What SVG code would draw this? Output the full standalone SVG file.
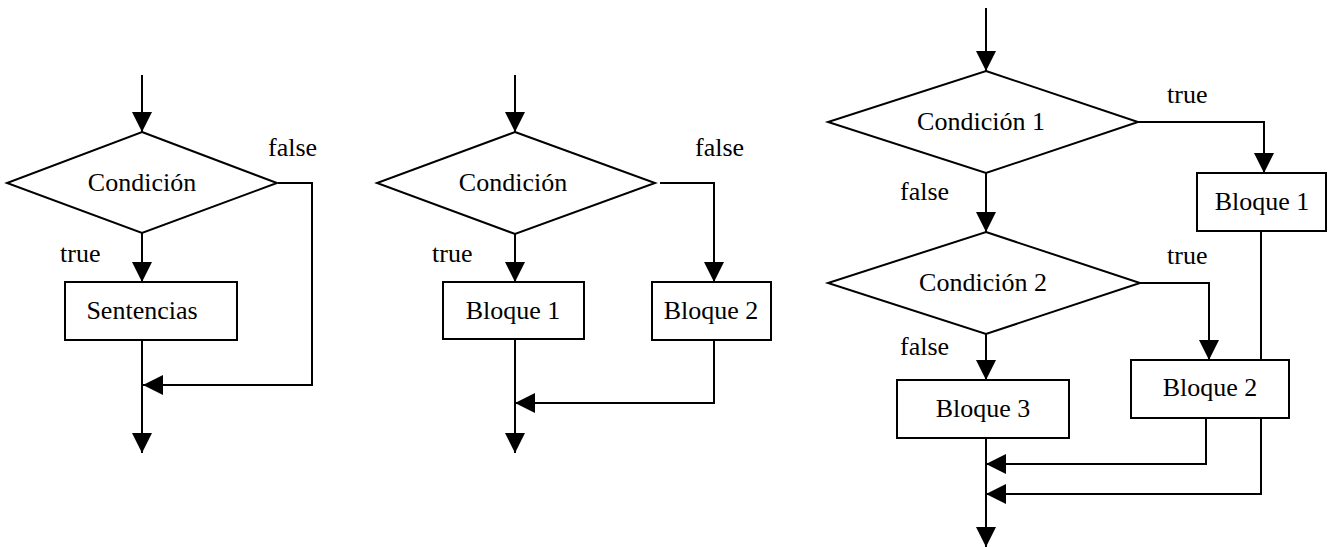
<svg xmlns="http://www.w3.org/2000/svg" width="1329" height="547" viewBox="0 0 1329 547">
<style>
.shape{fill:#fff;stroke:#000;stroke-width:2}
.conn{fill:none;stroke:#000;stroke-width:2}
.arr{marker-end:url(#ah)}
text{font-family:"Liberation Serif","Times New Roman",serif;font-size:26px;fill:#000}
.c{text-anchor:middle}
</style>
<defs>
<marker id="ah" markerUnits="userSpaceOnUse" markerWidth="20" markerHeight="20" refX="20" refY="10" orient="auto">
<path d="M0,0 L20,10 L0,20 z" fill="#000"/>
</marker>
</defs>
<g id="connectors">
<!-- diagram 1 -->
<path class="conn arr" d="M142,75 V132"/>
<path class="conn arr" d="M142,233 V282"/>
<path class="conn arr" d="M278,183 H312 V385 H143"/>
<path class="conn arr" d="M142,340 V453"/>
<!-- diagram 2 -->
<path class="conn arr" d="M515,75 V132"/>
<path class="conn arr" d="M515,234 V282"/>
<path class="conn arr" d="M660,183 H714 V282"/>
<path class="conn arr" d="M714,340 V403 H515"/>
<path class="conn arr" d="M515,339 V453"/>
<!-- diagram 3 -->
<path class="conn arr" d="M986,8 V71"/>
<path class="conn arr" d="M986,173 V232"/>
<path class="conn arr" d="M1138,122 H1264 V173"/>
<path class="conn" d="M1261,231 V360"/>
<path class="conn arr" d="M1140,283 H1209 V360"/>
<path class="conn arr" d="M986,334 V380"/>
<path class="conn arr" d="M1206,418 V464 H986"/>
<path class="conn arr" d="M1261,418 V494 H986"/>
<path class="conn arr" d="M986,438 V547"/>
</g>
<g id="d1-cond">
<polygon class="shape" points="142,132 277,183 142,233 7,183"/>
<text class="c" x="142" y="191">Condición</text>
</g>
<g id="d1-sent">
<rect class="shape" x="65" y="282" width="172" height="58"/>
<text class="c" x="142" y="319">Sentencias</text>
</g>
<g id="d1-labels">
<text x="268" y="156">false</text>
<text x="60" y="262">true</text>
</g>
<g id="d2-cond">
<polygon class="shape" points="515,132 655,183 515,234 377,183"/>
<text class="c" x="513" y="191">Condición</text>
</g>
<g id="d2-b1">
<rect class="shape" x="443" y="282" width="141" height="57"/>
<text class="c" x="513" y="319">Bloque 1</text>
</g>
<g id="d2-b2">
<rect class="shape" x="652" y="282" width="119" height="58"/>
<text class="c" x="711" y="319">Bloque 2</text>
</g>
<g id="d2-labels">
<text x="695" y="156">false</text>
<text x="432" y="262">true</text>
</g>
<g id="d3-cond1">
<polygon class="shape" points="986,71 1138,122 986,173 828,122"/>
<text class="c" x="981" y="130">Condición 1</text>
</g>
<g id="d3-cond2">
<polygon class="shape" points="986,232 1140,283 986,334 828,283"/>
<text class="c" x="983" y="291">Condición 2</text>
</g>
<g id="d3-b1">
<rect class="shape" x="1197" y="173" width="129" height="58"/>
<text class="c" x="1262" y="210">Bloque 1</text>
</g>
<g id="d3-b2">
<rect class="shape" x="1131" y="360" width="158" height="58"/>
<text class="c" x="1210" y="396">Bloque 2</text>
</g>
<g id="d3-b3">
<rect class="shape" x="897" y="380" width="172" height="58"/>
<text class="c" x="983" y="417">Bloque 3</text>
</g>
<g id="d3-labels">
<text x="1167" y="103">true</text>
<text x="900" y="200">false</text>
<text x="1167" y="264">true</text>
<text x="900" y="355">false</text>
</g>
</svg>
